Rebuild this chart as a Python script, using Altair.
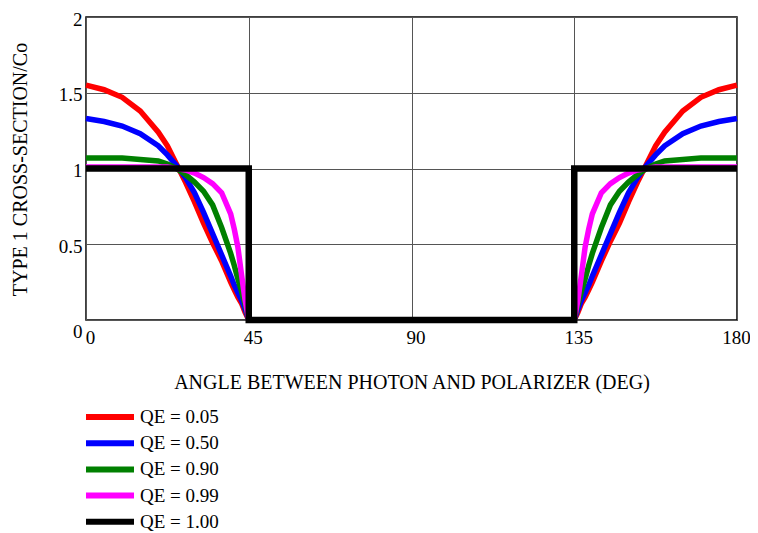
import altair as alt
import pandas as pd

# ---- data ----
angles_left = [0, 5, 10, 15, 20, 22.5, 25, 27.5, 30, 32.5, 35, 37.5, 40, 41, 42, 43, 44, 45]
angles_right = [135, 136, 137, 138, 139, 140, 142.5, 145, 147.5, 150, 152.5, 155, 157.5, 160, 165, 170, 175, 180]

qe005_left = [1.55, 1.52, 1.47, 1.38, 1.24, 1.15, 1.03, 0.91, 0.78, 0.64, 0.51, 0.39, 0.25, 0.20, 0.15, 0.11, 0.05, 0.0]
qe005_right = [0.0, 0.05, 0.11, 0.15, 0.20, 0.25, 0.39, 0.52, 0.64, 0.78, 0.91, 1.03, 1.15, 1.24, 1.38, 1.47, 1.52, 1.55]

qe050_left = [1.33, 1.31, 1.28, 1.23, 1.15, 1.09, 1.02, 0.94, 0.84, 0.71, 0.57, 0.43, 0.29, 0.23, 0.18, 0.13, 0.07, 0.0]
qe050_right = [0.0, 0.07, 0.13, 0.18, 0.23, 0.29, 0.43, 0.57, 0.71, 0.84, 0.94, 1.02, 1.09, 1.15, 1.23, 1.28, 1.31, 1.33]

qe090_left = [1.07, 1.07, 1.07, 1.06, 1.05, 1.03, 1.00, 0.96, 0.91, 0.85, 0.76, 0.61, 0.44, 0.36, 0.27, 0.19, 0.10, 0.0]
qe090_right = [0.0, 0.10, 0.19, 0.27, 0.36, 0.44, 0.61, 0.76, 0.85, 0.91, 0.96, 1.00, 1.03, 1.05, 1.06, 1.07, 1.07, 1.07]

qe099_left = [1.01, 1.01, 1.01, 1.01, 1.01, 1.01, 1.00, 0.99, 0.97, 0.94, 0.90, 0.84, 0.70, 0.60, 0.48, 0.30, 0.13, 0.0]
qe099_right = [0.0, 0.13, 0.30, 0.48, 0.60, 0.70, 0.84, 0.90, 0.94, 0.97, 0.99, 1.00, 1.01, 1.01, 1.01, 1.01, 1.01, 1.01]

qe100_angles = [0, 45, 45, 135, 135, 180]
qe100_values = [1, 1, 0, 0, 1, 1]

series_labels = ["QE = 0.05", "QE = 0.50", "QE = 0.90", "QE = 0.99", "QE = 1.00"]
series_colors = ["#ff0000", "#0000ff", "#008000", "#ff00ff", "#000000"]

x_ticks = [0, 45, 90, 135, 180]
y_ticks = [0, 0.5, 1, 1.5, 2]

# ---- build tables ----
rows = []
for label, left, right in [
    (series_labels[0], qe005_left, qe005_right),
    (series_labels[1], qe050_left, qe050_right),
    (series_labels[2], qe090_left, qe090_right),
    (series_labels[3], qe099_left, qe099_right),
]:
    angs = angles_left + angles_right
    vals = left + right
    for i, (a, v) in enumerate(zip(angs, vals)):
        rows.append({"angle": a, "value": v, "series": label, "idx": i})
df_c = pd.DataFrame(rows)

df_b = pd.DataFrame({
    "angle": qe100_angles,
    "value": qe100_values,
    "series": [series_labels[4]] * len(qe100_angles),
    "idx": list(range(len(qe100_angles))),
})

FONT = "Liberation Serif"

x_enc = alt.X(
    "angle:Q",
    scale=alt.Scale(domain=[0, 180], nice=False),
    axis=alt.Axis(
        values=x_ticks, title="ANGLE BETWEEN PHOTON AND POLARIZER (DEG)",
        titleX=325.5, titleY=62, titleBaseline="middle", titleAnchor="middle",
        labelOffset={"condition": {"test": "datum.value === 180", "value": -1}, "value": 4},
        labelPadding=8, labelFlush=False,
    ),
)
y_enc = alt.Y(
    "value:Q",
    scale=alt.Scale(domain=[0, 2], nice=False),
    axis=alt.Axis(
        values=y_ticks, format="~g", title="TYPE 1 CROSS-SECTION/Co",
        titleX=-66, titleY=152, titleAngle=-90, titleBaseline="middle", titleAnchor="middle",
        labelPadding=4, labelOffset=2, labelFlush=False,
        labelBaseline={"condition": {"test": "datum.value === 0", "value": "top"}, "value": "middle"},
    ),
)
color_enc = alt.Color(
    "series:N",
    scale=alt.Scale(domain=series_labels, range=series_colors),
    legend=alt.Legend(
        title=None, orient="none", legendX=-3, legendY=390,
        symbolType="stroke", symbolSize=2304, symbolStrokeWidth=6,
        labelFont=FONT, labelFontSize=19, labelColor="black", labelOffset=3,
        clipHeight=20, rowPadding=6.2, padding=0,
    ),
)

colored = alt.Chart(df_c).mark_line(strokeWidth=5.5, strokeCap="butt").encode(
    x=x_enc, y=y_enc, color=color_enc, order="idx:Q"
)
black = alt.Chart(df_b).mark_line(strokeWidth=6.5, strokeJoin="miter", strokeCap="butt").encode(
    x=x_enc, y=y_enc, color=color_enc, order="idx:Q"
)

chart = alt.layer(colored, black).properties(
    width=651, height=303,
    autosize=alt.AutoSizeParams(type="none"),
    padding={"left": 78, "top": 9, "right": 13, "bottom": 213},
    background="white",
).configure_view(
    stroke="black", strokeWidth=1.5
).configure_axis(
    grid=True, gridColor="#555555", gridWidth=1, domain=False, ticks=False,
    labelFont=FONT, labelFontSize=19, labelColor="black",
    titleFont=FONT, titleFontSize=20, titleColor="black", titleFontWeight="normal",
)

chart.save("out.html", embed_options={"renderer": "svg", "actions": False})
